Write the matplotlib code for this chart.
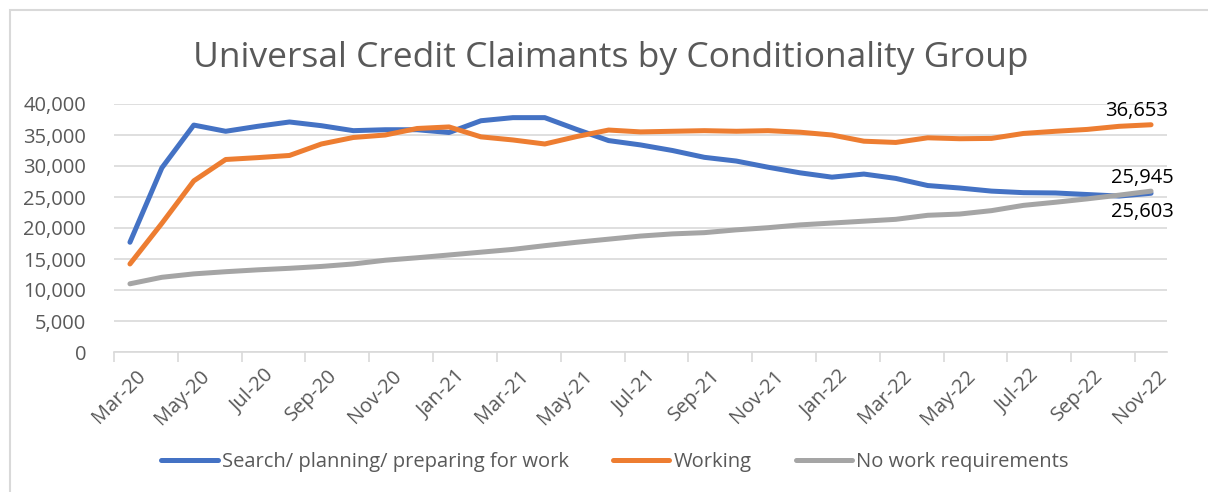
import matplotlib
matplotlib.use("Agg")
import matplotlib.pyplot as plt
import matplotlib.transforms as mtransforms
from matplotlib.patches import Rectangle
from matplotlib.ticker import FuncFormatter

plt.rcParams['font.family'] = ['Open Sans', 'DejaVu Sans']

# meses (categorias del eje x)
meses = ["Mar-20", "Apr-20", "May-20", "Jun-20", "Jul-20", "Aug-20", "Sep-20", "Oct-20",
         "Nov-20", "Dec-20", "Jan-21", "Feb-21", "Mar-21", "Apr-21", "May-21", "Jun-21",
         "Jul-21", "Aug-21", "Sep-21", "Oct-21", "Nov-21", "Dec-21", "Jan-22", "Feb-22",
         "Mar-22", "Apr-22", "May-22", "Jun-22", "Jul-22", "Aug-22", "Sep-22", "Oct-22",
         "Nov-22"]

buscando = [17700, 29700, 36600, 35600, 36400, 37100, 36500, 35700, 35850, 35850, 35400,
            37300, 37800, 37800, 35900, 34100, 33400, 32500, 31400, 30800, 29800, 28900,
            28200, 28700, 28000, 26850, 26450, 25950, 25700, 25650, 25400, 25150, 25603]

trabajando = [14200, 20750, 27600, 31050, 31350, 31700, 33550, 34600, 35000, 36050, 36300,
              34700, 34200, 33550, 34750, 35800, 35500, 35600, 35700, 35600, 35700, 35450,
              35000, 34000, 33800, 34550, 34400, 34450, 35250, 35600, 35900, 36400, 36653]

sin_requisitos = [11000, 12050, 12600, 12950, 13250, 13500, 13800, 14200, 14800, 15200, 15650,
                  16100, 16550, 17150, 17700, 18200, 18700, 19050, 19250, 19700, 20050, 20500,
                  20800, 21100, 21400, 22050, 22250, 22800, 23650, 24150, 24700, 25300, 25945]

series = ["Search/ planning/ preparing for work", "Working", "No work requirements"]
colores = ["#4472C4", "#ED7D31", "#A5A5A5"]

W, H = 1208, 492
fig = plt.figure(figsize=(W / 100, H / 100), dpi=100)
ax = fig.add_axes([114 / W, 1 - 352 / H, (1167 - 114) / W, (352 - 104) / H])

x = list(range(len(meses)))
for datos, nombre, color in zip([buscando, trabajando, sin_requisitos], series, colores):
    ax.plot(x, datos, color=color, lw=3.6, label=nombre, solid_capstyle='round', zorder=3)

ax.set_xlim(-0.5, len(meses) - 0.5)
ax.set_ylim(0, 40000)
ax.set_yticks(range(0, 40001, 5000))
ax.yaxis.set_major_formatter(FuncFormatter(lambda v, p: f"{int(v):,}"))
ax.grid(axis='y', color="#D9D9D9", lw=1.2, zorder=0)

# etiquetas cada dos meses, marcas en los bordes de categoria
ax.set_xticks(x[::2])
ax.set_xticklabels(meses[::2], rotation=45, ha='right', va='top', rotation_mode='anchor')
ax.set_xticks([i - 0.5 for i in range(0, len(meses) + 1, 2)], minor=True)
ax.tick_params(axis='x', which='major', length=0, pad=10, labelsize=14.5, labelcolor="#595959")
ax.tick_params(axis='x', which='minor', length=7, width=1.2, color="#D9D9D9")
ax.tick_params(axis='y', length=0, pad=20, labelsize=14.5, labelcolor="#595959")
desplaza = mtransforms.ScaledTranslation(6 / 100, 0, fig.dpi_scale_trans)
for etiqueta in ax.get_xticklabels():
    etiqueta.set_transform(etiqueta.get_transform() + desplaza)
for lado in ['top', 'right', 'left']:
    ax.spines[lado].set_visible(False)
ax.spines['bottom'].set_color("#D9D9D9")
ax.spines['bottom'].set_linewidth(1.2)

# etiquetas de datos del ultimo mes
ult = len(meses) - 1
ax.annotate(f"{trabajando[-1]:,}", (ult, trabajando[-1]), xytext=(-14, 14),
            textcoords='offset pixels', ha='center', va='center', fontsize=14.5, color="#000000")
ax.annotate(f"{sin_requisitos[-1]:,}", (ult, sin_requisitos[-1]), xytext=(-9, 13),
            textcoords='offset pixels', ha='center', va='center', fontsize=14.5, color="#000000")
ax.annotate(f"{buscando[-1]:,}", (ult, buscando[-1]), xytext=(-9, -19),
            textcoords='offset pixels', ha='center', va='center', fontsize=14.5, color="#000000")

fig.text(611 / W, 1 - 58 / H, "Universal Credit Claimants by Conditionality Group",
         ha='center', va='center', fontsize=25.5, color="#595959")

fig.legend(loc='center', bbox_to_anchor=(615 / W, 1 - 462 / H), ncol=3, frameon=False,
           fontsize=14.5, handlelength=2.8, handletextpad=0.2, columnspacing=2.2,
           labelcolor="#595959")

# borde del area del grafico
fig.patches.append(Rectangle((10 / W, -0.1), 1.2, 1.1 - 10 / H, transform=fig.transFigure,
                             fill=False, edgecolor="#D9D9D9", lw=1.5))

fig.savefig("out.png", dpi=100)
